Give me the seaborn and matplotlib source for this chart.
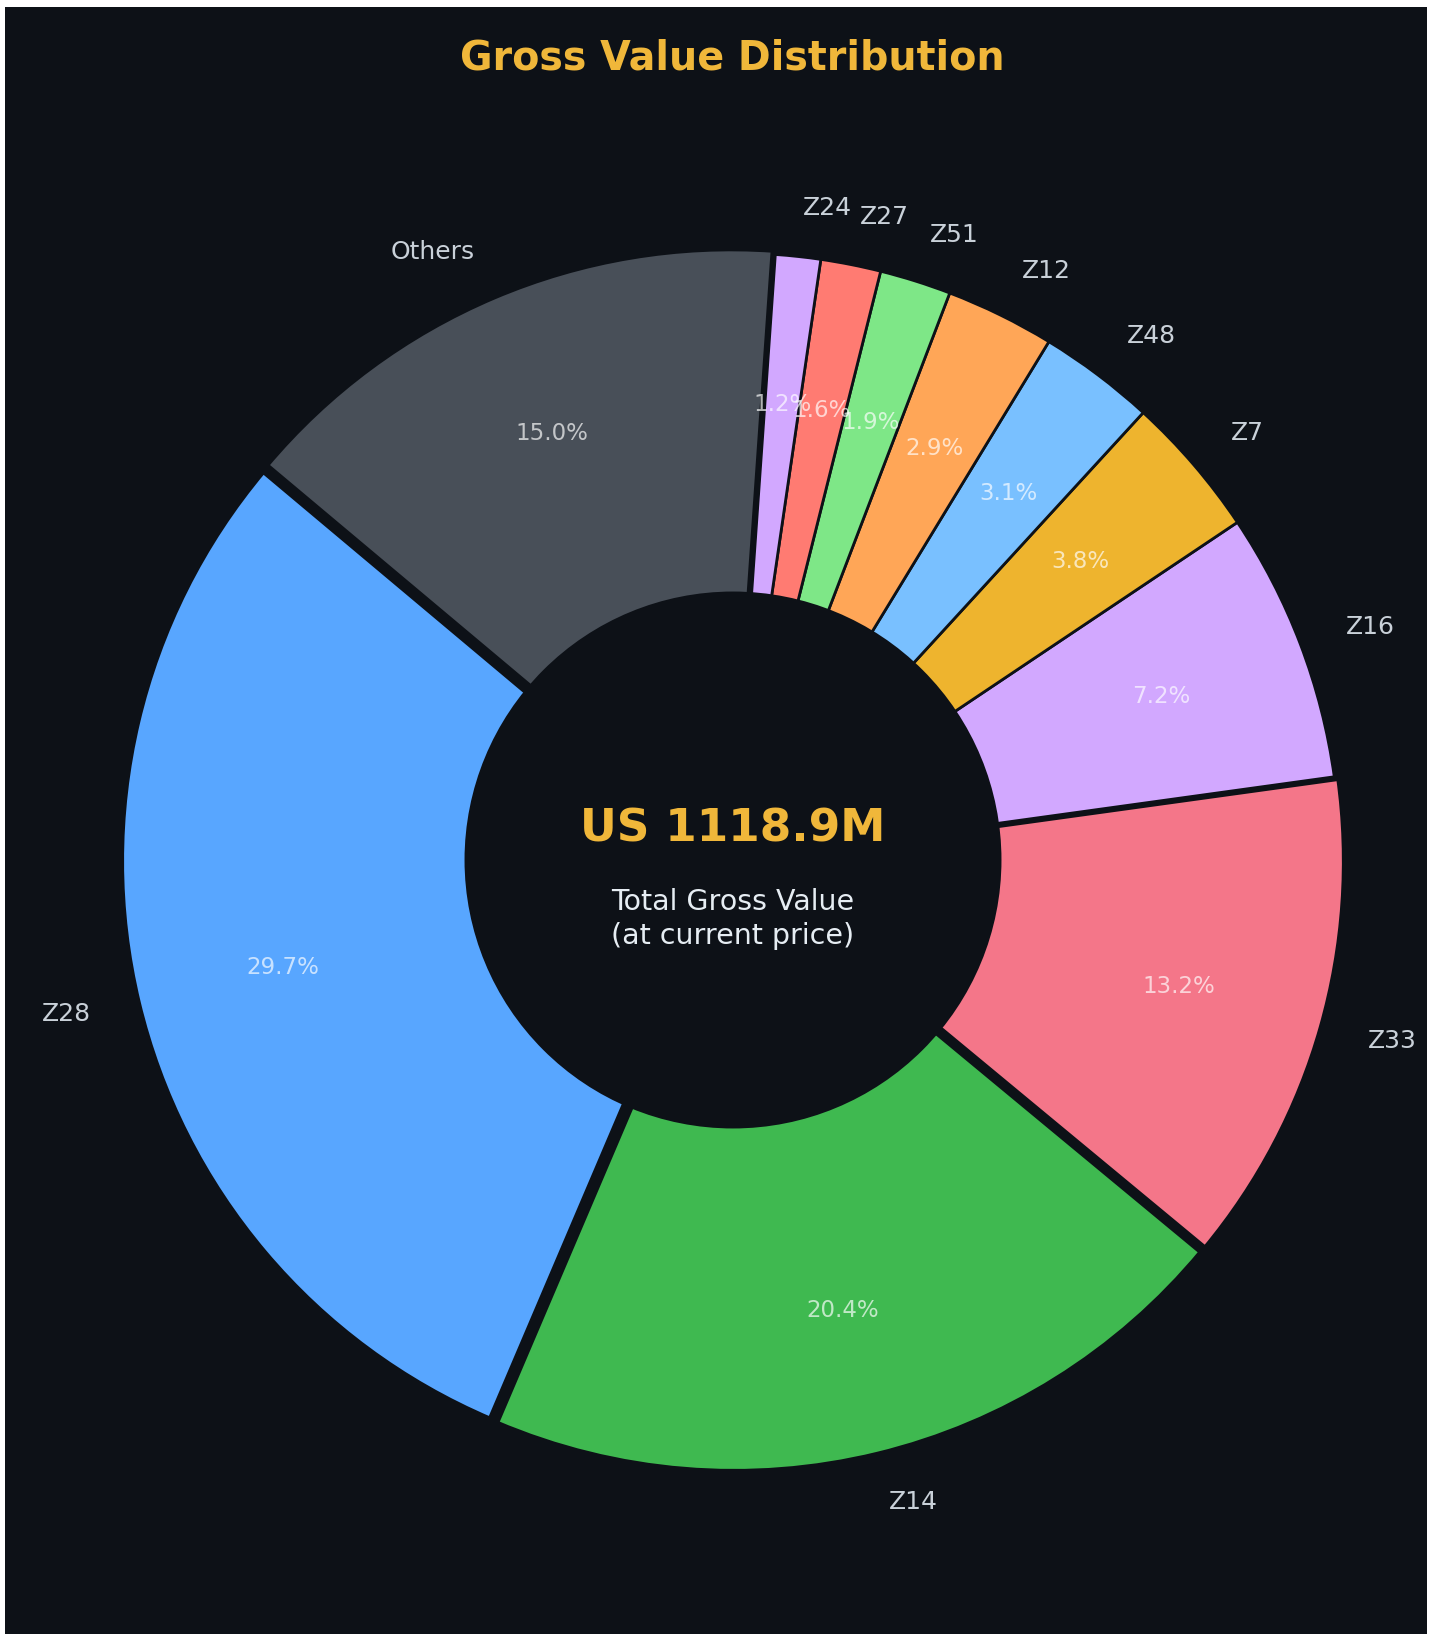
import numpy as np
import pandas as pd
import seaborn as sns
import matplotlib
matplotlib.use("Agg")
import matplotlib.pyplot as plt
from matplotlib.patches import Rectangle, Circle

# ---------------- data ----------------
labels = ["Z28", "Z14", "Z33", "Z16", "Z7", "Z48", "Z12", "Z51", "Z27", "Z24", "Others"]
values = [29.7, 20.4, 13.2, 7.2, 3.8, 3.1, 2.9, 1.9, 1.6, 1.2, 15.0]
colors = ["#58a6ff", "#3fb950", "#f47689", "#d2a8ff", "#eeb42e", "#79c0ff",
          "#ffa657", "#7ee787", "#ff7b72", "#d2a8ff", "#484f58"]
explode = [0.008, 0.008, 0.008, 0, 0, 0, 0, 0, 0, 0, 0.008]
title = "Gross Value Distribution"
center_value = "US 1118.9M"
center_caption = "Total Gross Value\n(at current price)"

BG = "#0d1117"
GOLD = "#f0b73a"
LABEL_C = "#c9d1d9"

sns.set_theme(style="dark")
plt.rcParams["font.family"] = ["DejaVu Sans"]

W, H = 1435, 1634
fig = plt.figure(figsize=(W / 100, H / 100), dpi=100, facecolor="white")
bgrect = Rectangle((5 / W, 0), (1427 - 5) / W, (H - 7) / H,
                   transform=fig.transFigure, facecolor=BG,
                   edgecolor="none", zorder=-10)
fig.patches.append(bgrect)

ax = fig.add_axes([0, 0, 1, 1])
ax.set_facecolor("none")
ax.set_zorder(5)

wedges, texts, autotexts = ax.pie(
    values, labels=labels, colors=colors, explode=explode,
    startangle=140, autopct="%1.1f%%", pctdistance=0.755, labeldistance=1.08,
    wedgeprops=dict(edgecolor=BG, linewidth=2),
    textprops=dict(color=LABEL_C, fontsize=18),
)
for w, e in zip(wedges, explode):
    if e > 0:
        w.set_linewidth(4)
for t in autotexts:
    t.set_color("white")
    t.set_alpha(0.68)
    t.set_fontsize(16.5)

ax.add_patch(Circle((0, 0), 0.44, facecolor=BG, edgecolor=BG, linewidth=2, zorder=3))

R = 607.0
cx, cy = 733.0, 860.0
ax.set_xlim(-cx / R, (W - cx) / R)
ax.set_ylim(-(H - cy) / R, cy / R)
ax.set_aspect("auto")
ax.axis("off")

ax.text(0, (cy - 829) / R, center_value, ha="center", va="center",
        fontsize=32.7, fontweight="bold", color=GOLD, zorder=5)
ax.text(0, (cy - 919) / R, center_caption, ha="center", va="center",
        fontsize=20.5, color="#e6edf3", linespacing=1.25, zorder=5)

fig.text(732 / W, 1 - 58 / H, title, ha="center", va="center",
         fontsize=28.5, fontweight="bold", color=GOLD, zorder=10)

fig.savefig("out.png", dpi=100, facecolor=fig.get_facecolor())
